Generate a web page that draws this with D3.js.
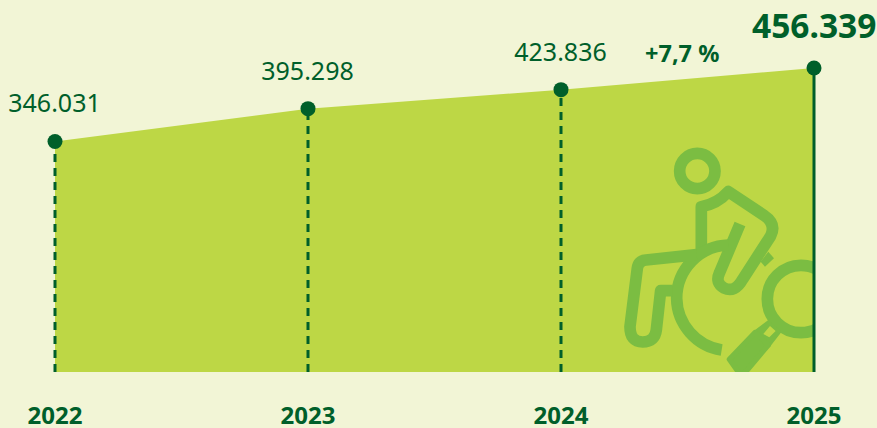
<!DOCTYPE html>
<html><head><meta charset="utf-8">
<script src="https://cdn.jsdelivr.net/npm/d3@7/dist/d3.min.js"></script>
<style>html,body{margin:0;padding:0;background:#f2f5d6;overflow:hidden}svg{display:block}text{font-family:"Noto Sans",sans-serif;fill:#005f2a}</style>
</head><body><svg id="c" width="877" height="428"></svg>
<script>
const years=["2022","2023","2024","2025"];
const visitors=[346031,395298,423836,456339];
const valueLabels=["346.031","395.298","423.836","456.339"];
const changeLabel="+7,7 %";
const dark="#005f2a",area="#bdd745",icon="#7bbd42";
const svg=d3.select("#c");
const x=d3.scalePoint().domain(years).range([55,814]);
const y=d3.scaleLinear().domain([0,456339]).range([372,68]);
const pts=years.map((d,i)=>({year:d,v:visitors[i],label:valueLabels[i],i}));
svg.append("path").datum(pts).attr("fill",area)
  .attr("d",d3.area().x(d=>x(d.year)).y0(y(0)).y1(d=>y(d.v)));
const defs=svg.append("defs");
defs.append("clipPath").attr("id","clip").append("rect").attr("x",0).attr("y",0).attr("width",814).attr("height",372);
// decorative pictogram
const g=svg.append("g").attr("clip-path","url(#clip)").append("g").attr("transform","translate(600,130) scale(0.3333)")
  .attr("fill","none").attr("stroke",icon).attr("stroke-width",35).attr("stroke-linejoin","round");
g.append("circle").attr("cx",292).attr("cy",123).attr("r",53);
g.append("path").attr("d","M304 362 L304 230 Q352 222 385 185 L492 256 Q530 282 512 318 L428 448 Q405 490 372 474 Q345 458 358 430 L420 282");
g.append("path").attr("d","M385 345 A160 160 0 0 0 230 505 A160 160 0 0 0 365 660");
g.append("path").attr("d","M290 374 L138 390 Q115 392 112 415 L90 590 Q90 636 128 636 Q165 636 169 600 L182 482 L218 482");
g.append("circle").attr("cx",603).attr("cy",507).attr("r",101);
g.append("path").attr("d","M505 365 L522 385 L495 410 L482 395 Z").attr("fill",icon).attr("stroke","none");
g.append("path").attr("d","M505 570 L545 605 L510 650 L465 600 Z M490 612 L508 622 L527 603 L510 588 Z").attr("fill",icon).attr("fill-rule","evenodd").attr("stroke","none");
g.append("path").attr("d","M465 608 L388 688 L425 740 L505 645 Z").attr("fill",icon).attr("stroke-width",16);
// drop lines
svg.selectAll("line.drop").data(pts).join("line").attr("class","drop")
  .attr("x1",d=>x(d.year)).attr("x2",d=>x(d.year)).attr("y1",y(0)).attr("y2",d=>y(d.v))
  .attr("stroke",dark).attr("stroke-width",3)
  .attr("stroke-dasharray",d=>d.i===3?null:"8 6");
svg.selectAll("circle.pt").data(pts).join("circle").attr("class","pt")
  .attr("cx",d=>x(d.year)).attr("cy",d=>y(d.v)).attr("r",7.5).attr("fill",dark);
svg.selectAll("text.val").data(pts).join("text").attr("class","val")
  .attr("x",d=>d.i===3?752:x(d.year)-0.5).attr("y",d=>d.i===3?38:y(d.v)-29)
  .attr("text-anchor",d=>d.i===3?"start":"middle")
  .attr("font-size",d=>d.i===3?33.5:25).attr("font-weight",d=>d.i===3?700:400)
  .text(d=>d.label);
svg.append("text").attr("x",645).attr("y",62).attr("font-size",23.5).attr("font-weight",700).text(changeLabel);
const ax=svg.append("g").attr("transform","translate(-0.5,372)").call(d3.axisBottom(x).tickSize(0).tickPadding(0));
ax.select(".domain").remove();
ax.selectAll("text").attr("dy",null).attr("y",52).attr("font-size",24).attr("font-weight",700).attr("font-family",'"Noto Sans",sans-serif').attr("fill",dark);
</script></body></html>
